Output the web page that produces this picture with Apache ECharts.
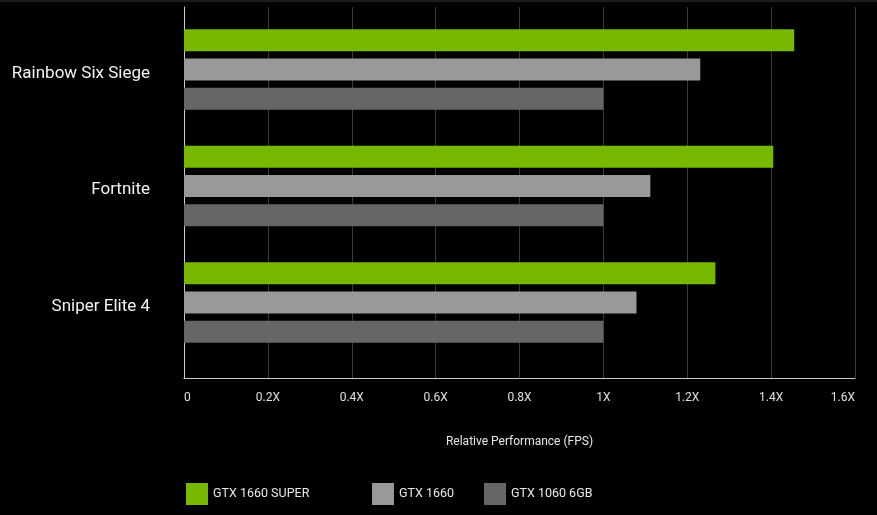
<!DOCTYPE html>
<html>
<head>
<meta charset="utf-8">
<script src="https://cdn.jsdelivr.net/npm/echarts@6/dist/echarts.min.js"></script>
<style>
html,body{margin:0;padding:0;background:#000;}
#top{height:2px;background:#1c1c1c;}
#chart{width:877px;height:513px;}
</style>
</head>
<body>
<div id="top"></div>
<div id="chart"></div>
<script>
const categories = ['Rainbow Six Siege', 'Fortnite', 'Sniper Elite 4'];
const seriesNames = ['GTX 1660 SUPER', 'GTX 1660', 'GTX 1060 6GB'];
const gtx1660Super = [1.455, 1.405, 1.267];
const gtx1660 = [1.231, 1.112, 1.079];
const gtx1060 = [1.0, 1.0, 1.0];
const tickLabels = ['0', '0.2X', '0.4X', '0.6X', '0.8X', '1X', '1.2X', '1.4X', '1.6X'];
const colors = ['#76b900', '#999999', '#666666'];

const chart = echarts.init(document.getElementById('chart'));
const font = 'Roboto, "Noto Sans", sans-serif';
const top0 = 5; // chart div is offset by 2px strip
const option = {
  backgroundColor: '#000',
  animation: false,
  textStyle: { fontFamily: font },
  grid: [
    { left: 184, right: 22, top: top0, height: 371 },
    { left: 184, right: 22, top: top0 + 4.25, height: 349.5 }
  ],
  legend: seriesNames.map((n, i) => ({
    data: [n],
    left: [186, 372, 484][i],
    top: 481,
    itemWidth: 22,
    itemHeight: 22,
    itemGap: 5,
    icon: 'rect',
    textStyle: { color: '#e8e8e8', fontSize: 12.5, fontFamily: font },
    padding: 0
  })),
  xAxis: [
    {
      gridIndex: 0, type: 'value', min: 0, max: 1.6, interval: 0.2,
      axisLine: { show: true, lineStyle: { color: '#cccccc', width: 1 } },
      axisTick: { show: false },
      splitLine: { show: true, lineStyle: { color: '#3a3a3a', width: 1 } },
      axisLabel: {
        color: '#e0e0e0', fontSize: 12, margin: 14,
        alignMinLabel: 'left', alignMaxLabel: 'right',
        formatter: (v) => tickLabels[Math.round(v / 0.2)]
      },
      name: 'Relative Performance (FPS)', nameLocation: 'middle', nameGap: 58,
      nameTextStyle: { color: '#e8e8e8', fontSize: 12 }
    },
    {
      gridIndex: 1, type: 'value', min: 0, max: 1.6, show: false
    }
  ],
  yAxis: [
    {
      gridIndex: 0, type: 'value', min: 0, max: 1,
      axisLine: { show: true, lineStyle: { color: '#cccccc', width: 1 } },
      axisTick: { show: false }, axisLabel: { show: false }, splitLine: { show: false }
    },
    {
      gridIndex: 1, type: 'category', data: categories, inverse: true,
      axisLine: { show: false }, axisTick: { show: false },
      axisLabel: {
        margin: 34,
        formatter: (v) => '{a|' + v + '}',
        rich: { a: { color: '#f0f4f8', fontSize: 17, fontFamily: font, padding: [8, 0, 0, 0] } }
      }
    }
  ],
  series: [gtx1660Super, gtx1660, gtx1060].map((d, i) => ({
    name: seriesNames[i],
    type: 'bar',
    xAxisIndex: 1, yAxisIndex: 1,
    data: d,
    barWidth: 22,
    barGap: '33%',
    itemStyle: { color: colors[i] }
  }))
};
chart.setOption(option);
</script>
</body>
</html>
